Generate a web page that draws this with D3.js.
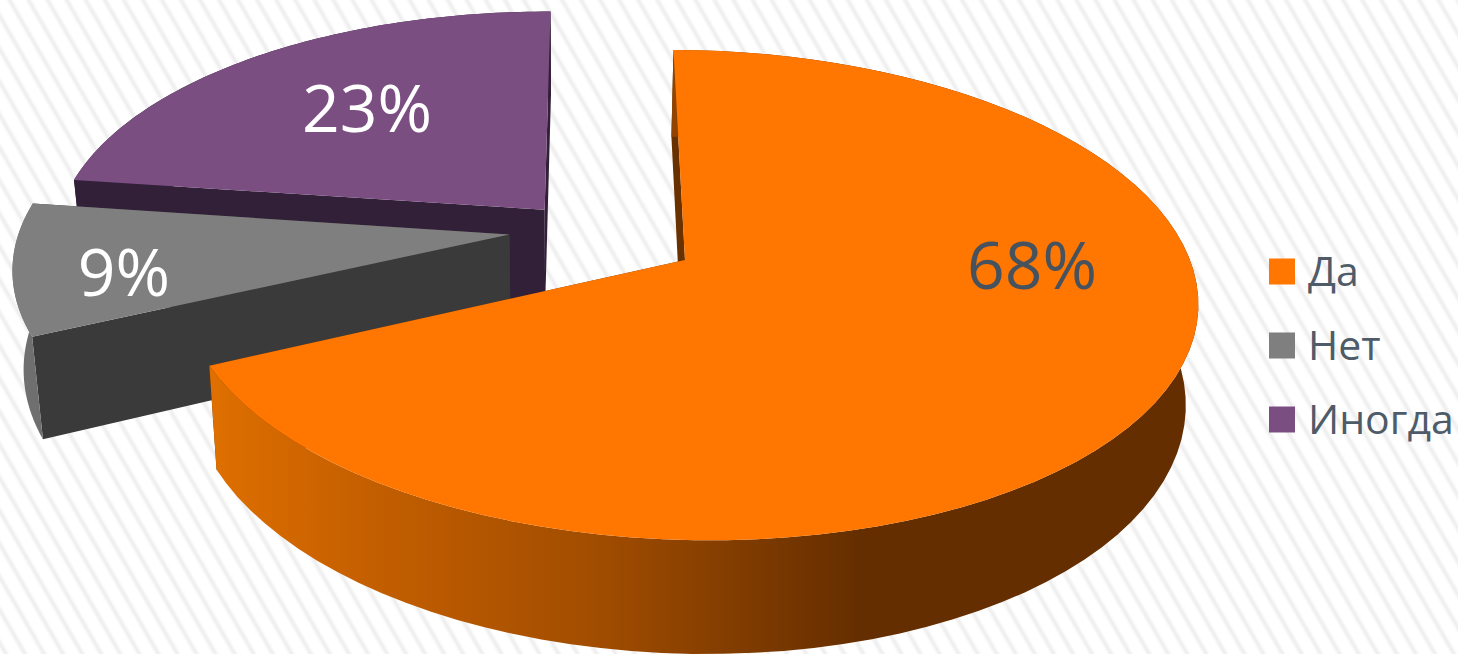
<!DOCTYPE html>
<html>
<head>
<meta charset="utf-8">
<script src="https://cdn.jsdelivr.net/npm/d3@7/dist/d3.min.js"></script>
<style>
  html, body { margin: 0; padding: 0; background: #fff; }
  svg { display: block; }
  text { font-family: "Open Sans", sans-serif; }
</style>
</head>
<body>
<div id="chart"></div>
<script>
// Survey answers
const categories = ["Да", "Нет", "Иногда"];
const shares = [68, 9, 23];
const percentLabels = ["68%", "9%", "23%"];

// Colours per slice
const topColors = ["#ff7600", "#7f7f7f", "#7b4e82"];
const radialWallColors = ["#6a3100", "#3a3a3a", "#321f38"];
const rimColors = ["url(#rimShade)", "#6f6f6f", "#321f38"];
const labelColors = ["#46535f", "#ffffff", "#ffffff"];

// Slice pull-out in disk units (right, toward viewer)
const pullU = [0, -0.355, -0.288];
const pullV = [0, -0.095, -0.205];

// Label anchor points
const labelX = [1032, 124, 367];
const labelY = [289, 296, 132];

const W = 1458, H = 654;
const startDeg = -1.5;

// Perspective of the disk plane, with a slight sideways tilt
const cx = 685, cy = 260, a = 503, b = 240, k = 1 / 7, tiltW = 0.01, tiltY = 9;
function topPoint(u, v) {
  const w = 1 - k * v - tiltW * u;
  return [cx + a * u / w, cy + (b * v + tiltY * u) / w];
}
// Lower rim: drop with slight convergence toward the vanishing column
function lowerPoint(p) {
  return [570 + 0.98 * (p[0] - 570), p[1] + 84 + 0.055 * p[1]];
}

const svg = d3.select("#chart").append("svg").attr("width", W).attr("height", H);
const defs = svg.append("defs");

// Soft diagonal stripes of the backdrop
const stripeFade = defs.append("linearGradient").attr("id", "stripeFade");
[[0, "#ffffff"], [0.28, "#ffffff"], [0.5, "#ededed"], [0.72, "#ffffff"], [1, "#ffffff"]]
  .forEach(([o, c]) => stripeFade.append("stop").attr("offset", o).attr("stop-color", c));
const stripes = defs.append("pattern").attr("id", "stripes")
  .attr("patternUnits", "userSpaceOnUse")
  .attr("width", 16.5).attr("height", 16.5)
  .attr("patternTransform", "rotate(-30)");
stripes.append("rect").attr("width", 16.5).attr("height", 16.5).attr("fill", "url(#stripeFade)");

// Horizontal shading along the big slice's rim
const rimShade = defs.append("linearGradient").attr("id", "rimShade")
  .attr("gradientUnits", "userSpaceOnUse")
  .attr("x1", 215).attr("x2", 860).attr("y1", 0).attr("y2", 0);
[[0, "#de6f00"], [0.2, "#c86100"], [0.6, "#a04c00"], [1, "#652e00"]]
  .forEach(([o, c]) => rimShade.append("stop").attr("offset", o).attr("stop-color", c));

svg.append("rect").attr("width", W).attr("height", H).attr("fill", "url(#stripes)");

const pieLayout = d3.pie().sort(null)
  .startAngle(startDeg * Math.PI / 180)
  .endAngle((startDeg + 360) * Math.PI / 180);
const arcs = pieLayout(shares);

const line = d3.line();

function sliceGeometry(d, i) {
  const steps = d3.range(0, 81).map(s => d.startAngle + (d.endAngle - d.startAngle) * s / 80);
  const rimTop = steps.map(t => topPoint(pullU[i] + Math.sin(t), pullV[i] - Math.cos(t)));
  const apexTop = topPoint(pullU[i], pullV[i]);
  return {
    rimTop,
    rimLow: rimTop.map(lowerPoint),
    apexTop,
    apexLow: lowerPoint(apexTop)
  };
}

// Back-to-front so the nearer slices cover the farther ones
[2, 1, 0].forEach(i => {
  const g = sliceGeometry(arcs[i], i);
  const slice = svg.append("g").attr("class", "slice");
  const n = g.rimTop.length - 1;

  slice.append("path").attr("fill", radialWallColors[i])
    .attr("d", line([g.apexTop, g.rimTop[0], g.rimLow[0], g.apexLow]) + "Z");
  slice.append("path").attr("fill", radialWallColors[i])
    .attr("d", line([g.apexTop, g.rimTop[n], g.rimLow[n], g.apexLow]) + "Z");
  slice.append("path").attr("fill", rimColors[i])
    .attr("d", line(g.rimTop.concat(g.rimLow.slice().reverse())) + "Z");
  slice.append("path").attr("fill", topColors[i])
    .attr("d", line([g.apexTop].concat(g.rimTop)) + "Z");
});

// Percentages
svg.selectAll("text.pct").data(percentLabels).join("text")
  .attr("class", "pct")
  .attr("x", (d, i) => labelX[i]).attr("y", (d, i) => labelY[i])
  .attr("text-anchor", "middle")
  .attr("font-size", 66)
  .attr("fill", (d, i) => labelColors[i])
  .text(d => d);

// Legend
const legendY = d3.scalePoint().domain(categories).range([271.5, 419.5]);
const legend = svg.selectAll("g.key").data(categories).join("g")
  .attr("class", "key")
  .attr("transform", d => `translate(1269,${legendY(d)})`);
legend.append("rect").attr("x", 0).attr("y", -13).attr("width", 26).attr("height", 26)
  .attr("fill", (d, i) => topColors[i]);
legend.append("text").attr("x", 39).attr("y", 14)
  .attr("font-size", 41).attr("fill", "#4e5b68")
  .text(d => d);
</script>
</body>
</html>
